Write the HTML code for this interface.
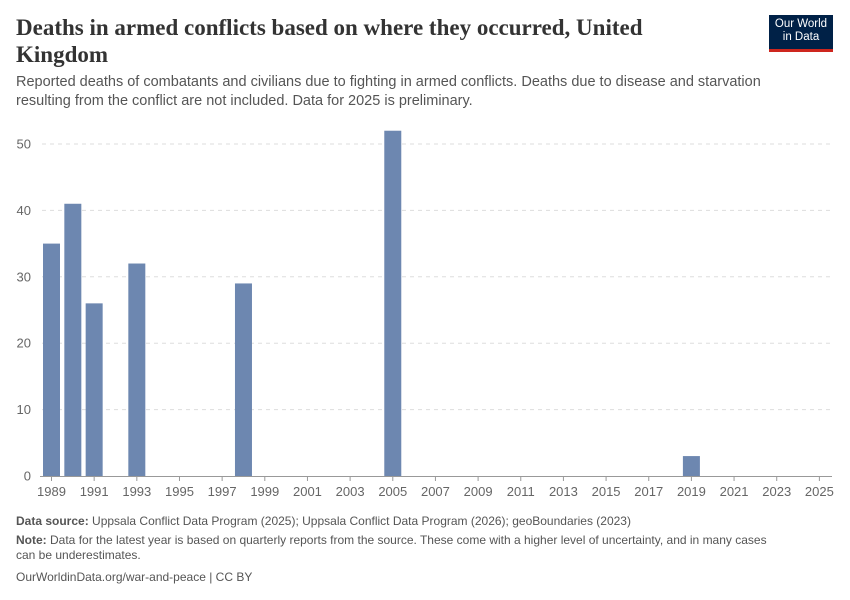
<!DOCTYPE html>
<html><head><meta charset="utf-8"><style>
body{margin:0;background:#fff;font-family:"Liberation Sans",sans-serif;}
#wrap{position:relative;width:850px;height:600px;overflow:hidden;}
.t{position:absolute;}
</style></head><body>
<div id="wrap">
<div class="t" style="left:16px;top:14px;width:700px;font-family:'Liberation Serif',serif;font-size:23px;line-height:27px;color:#333;font-weight:bold;">Deaths in armed conflicts based on where they occurred, United Kingdom</div>
<div class="t" style="left:769px;top:15px;width:64px;background:#002147;border-bottom:3px solid #ce261e;color:#fff;font-size:11.5px;line-height:13px;text-align:center;padding-top:3px;height:31px;">Our World<br>in Data</div>
<div class="t" style="left:16px;top:73px;width:800px;font-size:14.5px;line-height:19px;color:#555;">Reported deaths of combatants and civilians due to fighting in armed conflicts. Deaths due to disease and starvation resulting from the conflict are not included. Data for 2025 is preliminary.</div>
<svg class="t" style="left:0;top:0" width="850" height="600" id="plot"></svg>
<div class="t" style="left:16px;top:514px;font-size:12px;color:#555;"><b>Data source:</b> Uppsala Conflict Data Program (2025); Uppsala Conflict Data Program (2026); geoBoundaries (2023)</div>
<div class="t" style="left:16px;top:533px;width:765px;font-size:12px;line-height:15px;color:#555;"><b>Note:</b> Data for the latest year is based on quarterly reports from the source. These come with a higher level of uncertainty, and in many cases can be underestimates.</div>
<div class="t" style="left:16px;top:570px;font-size:12px;color:#555;">OurWorldinData.org/war-and-peace | CC BY</div>
</div>
<script>
const years=[];for(let y=1989;y<=2025;y++)years.push(y);
const values=[35,41,26,0,32,0,0,0,0,29,0,0,0,0,0,0,52,0,0,0,0,0,0,0,0,0,0,0,0,0,3,0,0,0,0,0,0];
const yTicks=[0,10,20,30,40,50];
const ns="http://www.w3.org/2000/svg",svg=document.getElementById('plot');
const x0=51.5,step=21.33,bw=17;
const xs=y=>x0+(y-1989)*step;
const ys=v=>476-v*6.64;
function mk(t,a,txt){const e=document.createElementNS(ns,t);for(const k in a)e.setAttribute(k,a[k]);if(txt!=null)e.textContent=txt;svg.appendChild(e);return e;}
yTicks.forEach(v=>{
 if(v>0){const g=mk('line',{x1:42,x2:832,y1:ys(v),y2:ys(v),stroke:'#ddd','stroke-dasharray':'4,4'});
 
 }
 const t=mk('text',{x:31,y:ys(v)+4.5,'text-anchor':'end','font-size':13,fill:'#666','font-family':'Liberation Sans'},v);
 
 
});
years.forEach((y,i)=>{
 if(values[i]>0){const r=mk('rect',{x:xs(y)-bw/2,y:ys(values[i]),width:bw,height:476-ys(values[i]),fill:'#6d87b0'});
 
 }
 if((y-1989)%2===0){
 mk('line',{x1:xs(y),x2:xs(y),y1:476,y2:481,stroke:'#999'});
 const t=mk('text',{x:xs(y),y:496,'text-anchor':'middle','font-size':13,fill:'#666','font-family':'Liberation Sans'},y);
 
 }
});
const ax=mk('line',{x1:40,x2:832,y1:476.5,y2:476.5,stroke:'#999'});


</script>
</body></html>
